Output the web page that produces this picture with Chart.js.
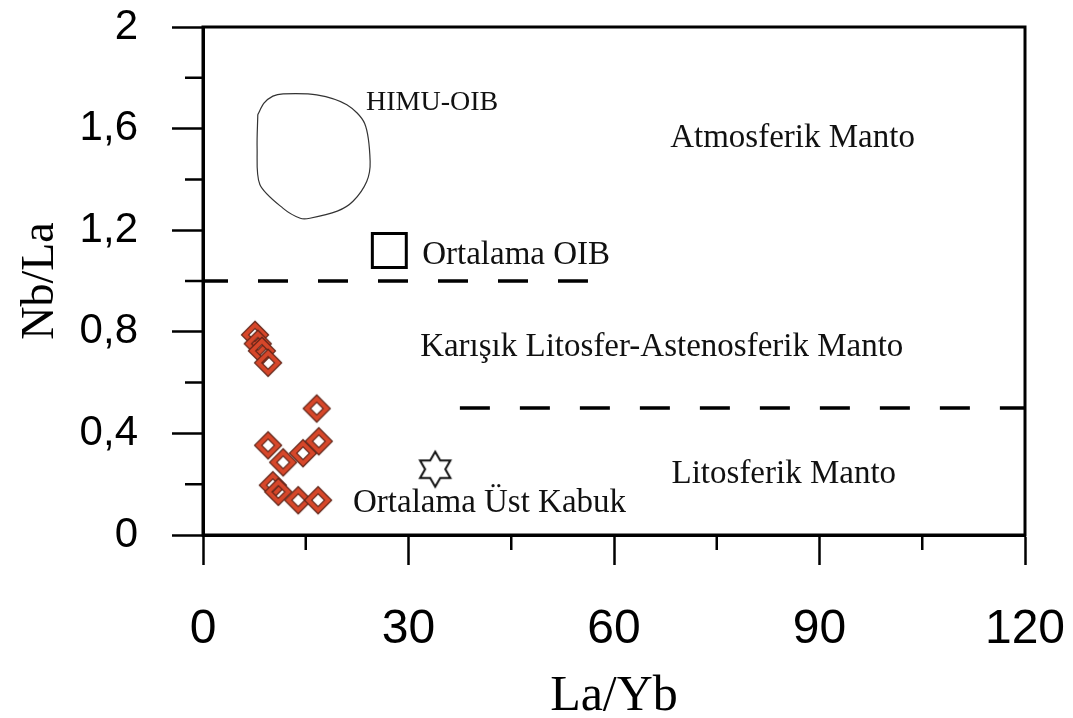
<!DOCTYPE html>
<html>
<head>
<meta charset="utf-8">
<script src="https://cdn.jsdelivr.net/npm/chart.js@4"></script>
<style>
  html, body { margin: 0; padding: 0; background: #fff; }
  #wrap { width: 1073px; height: 718px; }
</style>
</head>
<body>
<div id="wrap"><canvas id="chart1" width="1073" height="718"></canvas></div>
<script>
// sample values
const sampleLaYb = [7.6, 8.0, 8.6, 9.5, 16.6, 9.5, 11.7, 14.6, 16.9, 10.2, 11.0, 13.9, 16.8];
const sampleNbLa = [0.788, 0.753, 0.725, 0.678, 0.498, 0.353, 0.286, 0.322, 0.369, 0.196, 0.17, 0.137, 0.137];

// HIMU-OIB field outline
const himuLaYb = [8.0, 8.9, 10.2, 11.7, 16.6, 21.0, 23.6, 24.4, 23.9, 21.9, 19.6, 15.6, 14.2, 11.7, 8.3, 7.9, 8.0];
const himuNbLa = [1.655, 1.70, 1.728, 1.737, 1.733, 1.694, 1.62, 1.471, 1.392, 1.314, 1.275, 1.247, 1.247, 1.286, 1.38, 1.522, 1.655];

// reference compositions
const oibLaYb = [27.2];
const oibNbLa = [1.12];
const crustLaYb = [33.9];
const crustNbLa = [0.259];

// field boundaries
const upperBoundLaYb = [0, 56.2];
const upperBoundNbLa = [1.0, 1.0];
const lowerBoundLaYb = [37.5, 120];
const lowerBoundNbLa = [0.5, 0.5];

const xMinorTicks = [15, 45, 75, 105];
const yMinorTicks = [0.2, 0.6, 1.0, 1.4, 1.8];

const fieldLabels = ['HIMU-OIB', 'Atmosferik Manto', 'Ortalama OIB',
  'Karışık Litosfer-Astenosferik Manto', 'Litosferik Manto', 'Ortalama Üst Kabuk'];

function pts(xs, ys) { return xs.map((x, i) => ({ x: x, y: ys[i] })); }

// diamond marker
const diamond = document.createElement('canvas');
diamond.width = 34; diamond.height = 34;
(function () {
  const c = diamond.getContext('2d');
  const m = 17, r = 10;
  c.beginPath();
  c.moveTo(m - r, m); c.lineTo(m, m - r); c.lineTo(m + r, m); c.lineTo(m, m + r); c.closePath();
  c.lineJoin = 'miter';
  c.strokeStyle = '#5a2216'; c.lineWidth = 6.2; c.stroke();
  c.strokeStyle = '#d6472a'; c.lineWidth = 4; c.stroke();
})();

// six pointed star marker
const hexStar = document.createElement('canvas');
hexStar.width = 42; hexStar.height = 42;
(function () {
  const c = hexStar.getContext('2d');
  const R = 17.5, r = R / Math.sqrt(3);
  c.beginPath();
  for (let k = 0; k < 12; k++) {
    const a = -Math.PI / 2 + k * Math.PI / 6;
    const rr = k % 2 === 0 ? R : r;
    const px = 21 + rr * Math.cos(a), py = 21 + rr * Math.sin(a);
    if (k === 0) c.moveTo(px, py); else c.lineTo(px, py);
  }
  c.closePath();
  c.strokeStyle = '#111'; c.lineWidth = 2; c.stroke();
})();

const extras = {
  id: 'extras',
  afterDraw(chart) {
    const ctx = chart.ctx, a = chart.chartArea;
    const xs = chart.scales.x, ys = chart.scales.y;
    ctx.save();
    ctx.strokeStyle = '#000';
    ctx.lineWidth = 3;
    ctx.strokeRect(a.left, a.top, a.right - a.left, a.bottom - a.top);
    ctx.lineWidth = 2.5;
    ctx.beginPath();
    yMinorTicks.forEach(v => {
      const p = ys.getPixelForValue(v);
      ctx.moveTo(a.left - 18, p); ctx.lineTo(a.left, p);
    });
    xMinorTicks.forEach(v => {
      const p = xs.getPixelForValue(v);
      ctx.moveTo(p, a.bottom); ctx.lineTo(p, a.bottom + 15);
    });
    ctx.stroke();

    // field names
    const place = [
      [23.8, 1.675, 28], [68.2, 1.527, 33], [32.0, 1.067, 33],
      [31.7, 0.706, 33], [68.4, 0.203, 33], [21.9, 0.091, 33]
    ];
    ctx.fillStyle = '#111';
    ctx.textAlign = 'left';
    ctx.textBaseline = 'alphabetic';
    fieldLabels.forEach((t, i) => {
      ctx.font = place[i][2] + 'px "Liberation Serif"';
      ctx.fillText(t, xs.getPixelForValue(place[i][0]), ys.getPixelForValue(place[i][1]));
    });
    ctx.restore();
  }
};

new Chart(document.getElementById('chart1'), {
  type: 'scatter',
  data: {
    datasets: [
      {
        data: pts(upperBoundLaYb, upperBoundNbLa), showLine: true, pointRadius: 0,
        borderColor: '#000', borderWidth: 3.5, borderDash: [30, 30], borderDashOffset: 5
      },
      {
        data: pts(lowerBoundLaYb, lowerBoundNbLa), showLine: true, pointRadius: 0,
        borderColor: '#000', borderWidth: 3.5, borderDash: [30, 30]
      },
      {
        data: pts(himuLaYb, himuNbLa), showLine: true, pointRadius: 0,
        borderColor: '#333', borderWidth: 1.2, tension: 0.3
      },
      {
        data: pts(oibLaYb, oibNbLa), pointStyle: 'rect', pointRadius: 24,
        borderColor: '#000', borderWidth: 3, backgroundColor: 'rgba(0,0,0,0)'
      },
      {
        data: pts(crustLaYb, crustNbLa), pointStyle: hexStar
      },
      {
        data: pts(sampleLaYb, sampleNbLa), pointStyle: diamond
      }
    ]
  },
  options: {
    responsive: false,
    animation: false,
    layout: { padding: { top: 25, right: 48, left: 0, bottom: 0 } },
    plugins: { legend: { display: false }, tooltip: { enabled: false } },
    scales: {
      x: {
        type: 'linear', min: 0, max: 120,
        afterFit(s) { s.height = 183; s.paddingLeft = 0; s.paddingRight = 0; },
        ticks: {
          stepSize: 30, color: '#000', padding: 36,
          font: { family: 'Liberation Sans', size: 48 }
        },
        grid: { drawOnChartArea: false, tickLength: 30, tickWidth: 2.5, tickColor: '#000' },
        border: { display: true, color: '#000', width: 3 },
        title: {
          display: true, text: 'La/Yb', color: '#000',
          font: { family: 'Liberation Serif', size: 50, lineHeight: 1 },
          padding: { top: 0, bottom: -4 }
        }
      },
      y: {
        type: 'linear', min: 0, max: 2,
        afterFit(s) { s.width = 203; s.paddingTop = 0; s.paddingBottom = 0; },
        ticks: {
          stepSize: 0.4, color: '#000', padding: 34,
          font: { family: 'Liberation Sans', size: 42 },
          callback(v) {
            const r = Math.round(v * 10) / 10;
            return r % 1 === 0 ? String(r) : r.toFixed(1).replace('.', ',');
          }
        },
        grid: { drawOnChartArea: false, tickLength: 31, tickWidth: 2.5, tickColor: '#000' },
        border: { display: true, color: '#000', width: 3 },
        title: {
          display: true, text: 'Nb/La', color: '#000',
          font: { family: 'Liberation Serif', size: 46, lineHeight: 1 },
          padding: { top: 18, bottom: 0 }
        }
      }
    }
  },
  plugins: [extras]
});
</script>
</body>
</html>
